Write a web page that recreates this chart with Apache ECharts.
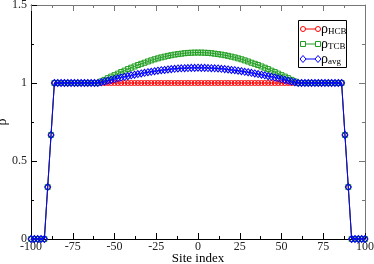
<!DOCTYPE html>
<html><head><meta charset="utf-8">
<script src="https://cdn.jsdelivr.net/npm/echarts@6/dist/echarts.min.js"></script>
<style>html,body{margin:0;padding:0;background:#fff}#c{width:374px;height:264px}</style>
</head><body><div id="c"></div>
<script>
var siteIndex = [-100,-98,-96,-94,-92,-90,-88,-86,-84,-82,-80,-78,-76,-74,-72,-70,-68,-66,-64,-62,
 -60,-58,-56,-54,-52,-50,-48,-46,-44,-42,-40,-38,-36,-34,-32,-30,-28,-26,-24,-22,-20,-18,-16,-14,-12,-10,-8,-6,-4,-2,
 0,2,4,6,8,10,12,14,16,18,20,22,24,26,28,30,32,34,36,38,40,42,44,46,48,50,52,54,56,58,60,
 62,64,66,68,70,72,74,76,78,80,82,84,86,88,90,92,94,96,98,100];
var rhoHCB = [0,0,0,0,0,0.333,0.667,1,1,1,1,1,1,1,1,1,1,1,1,1,
 1,1,1,1,1,1,1,1,1,1,1,1,1,1,1,1,1,1,1,1,1,1,1,1,1,1,1,1,1,1,
 1,1,1,1,1,1,1,1,1,1,1,1,1,1,1,1,1,1,1,1,1,1,1,1,1,1,1,1,1,1,1,
 1,1,1,1,1,1,1,1,1,1,1,1,1,0.667,0.333,0,0,0,0,0];
var rhoTCB = [0,0,0,0,0,0.333,0.667,1,1,1,1,1,1,1,1,1,1,1,1,1,
 1.000,1.010,1.020,1.031,1.041,1.050,1.060,1.070,1.079,1.089,1.098,1.106,1.115,1.123,1.130,1.138,1.145,1.152,1.158,1.164,1.169,1.174,1.178,1.182,1.185,1.188,1.191,1.193,1.194,1.195,
 1.195,1.195,1.194,1.193,1.191,1.188,1.185,1.182,1.178,1.174,1.169,1.164,1.158,1.152,1.145,1.138,1.130,1.123,1.115,1.106,1.098,1.089,1.079,1.070,1.060,1.050,1.041,1.031,1.020,1.010,1.000,
 1,1,1,1,1,1,1,1,1,1,1,1,1,0.667,0.333,0,0,0,0,0];
var rhoAvg = [0,0,0,0,0,0.333,0.667,1,1,1,1,1,1,1,1,1,1,1,1,1,
 1.000,1.005,1.010,1.015,1.020,1.025,1.030,1.035,1.040,1.044,1.049,1.053,1.057,1.061,1.065,1.069,1.072,1.076,1.079,1.082,1.084,1.087,1.089,1.091,1.093,1.094,1.095,1.096,1.097,1.097,
 1.098,1.097,1.097,1.096,1.095,1.094,1.093,1.091,1.089,1.087,1.084,1.082,1.079,1.076,1.072,1.069,1.065,1.061,1.057,1.053,1.049,1.044,1.040,1.035,1.030,1.025,1.020,1.015,1.010,1.005,1.000,
 1,1,1,1,1,1,1,1,1,1,1,1,1,0.667,0.333,0,0,0,0,0];
var seriesNames = ['HCB','TCB','avg'];
var seriesColors = ['#ff0000','#1f9e1f','#0000ff'];
var seriesSymbols = ['circle','rect','diamond'];

function pairs(ys){ return siteIndex.map(function(x,i){ return [x, ys[i]]; }); }

var FONT = 'Liberation Serif';
var chart = echarts.init(document.getElementById('c'), null, {renderer:'canvas'});

function mkSeries(name, ys, k){
  return {
    name: name, type: 'line', data: pairs(ys),
    xAxisIndex: 0, yAxisIndex: 0,
    symbol: seriesSymbols[k],
    symbolSize: k===2 ? [6,7] : 5,
    showAllSymbol: true,
    lineStyle: {color: seriesColors[k], width: 1},
    itemStyle: {color: 'rgba(255,255,255,0)', borderColor: seriesColors[k], borderWidth: 1},
    animation: false, silent: true, z: 2+k
  };
}

function axisBase(col){
  return {
    axisLine: {onZero: false, lineStyle: {color: col, width: 1}},
    axisTick: {inside: true, length: 6, lineStyle: {color: col}},
    minorTick: {show: true, splitNumber: 2, length: 3, lineStyle: {color: col}},
    splitLine: {show: false}
  };
}

function legendItem(k, y){
  var c = seriesColors[k];
  var g = [];
  g.push({type:'line', shape:{x1:303, y1:y, x2:318, y2:y}, style:{stroke:c, lineWidth:1}});
  [303,318].forEach(function(x){
    if (k===0) g.push({type:'circle', shape:{cx:x, cy:y, r:2.5}, style:{fill:'#fff', stroke:c, lineWidth:1}});
    else if (k===1) g.push({type:'rect', shape:{x:x-2.5, y:y-2.5, width:5, height:5}, style:{fill:'#fff', stroke:c, lineWidth:1}});
    else g.push({type:'polygon', shape:{points:[[x,y-3.5],[x+3,y],[x,y+3.5],[x-3,y]]}, style:{fill:'#fff', stroke:c, lineWidth:1}});
  });
  g.push({type:'text', x:321, y:y-7, style:{
    text: '{a|ρ}{b|' + seriesNames[k] + '}',
    rich: {
      a: {fontFamily: FONT, fontSize: 14, lineHeight: 14, fill: '#000'},
      b: {fontFamily: FONT, fontSize: 9, lineHeight: 9, verticalAlign: 'bottom', fill: '#000', padding:[5,0,0,0]}
    }
  }});
  return g;
}

var legendEls = [{type:'rect', shape:{x:298.5, y:20.5, width:48, height:47}, style:{fill:'#fff', stroke:'#000', lineWidth:1}}]
  .concat(legendItem(0,29)).concat(legendItem(1,44)).concat(legendItem(2,59));

chart.setOption({
  backgroundColor: '#fff',
  animation: false,
  grid: {left: 31, right: 9, top: 5, bottom: 25, containLabel: false, outerBoundsMode: 'none'},
  xAxis: [
    Object.assign(axisBase('#000'), {
      type: 'value', min: -100, max: 100, interval: 25, position: 'bottom',
      name: 'Site index', nameLocation: 'middle', nameGap: 13, nameMoveOverlap: false,
      nameTextStyle: {fontFamily: FONT, fontSize: 13, color: '#000'},
      axisLabel: {fontFamily: FONT, fontSize: 12, color: '#222', margin: 2}
    }),
    Object.assign(axisBase('#777'), {
      type: 'value', min: -100, max: 100, interval: 25, position: 'top',
      axisLabel: {show: false}
    })
  ],
  yAxis: [
    Object.assign(axisBase('#000'), {
      type: 'value', min: 0, max: 1.5, interval: 0.5, position: 'left',
      name: 'ρ', nameLocation: 'middle', nameGap: 22, nameRotate: 90, nameMoveOverlap: false,
      nameTextStyle: {fontFamily: FONT, fontSize: 14, color: '#000'},
      axisLabel: {fontFamily: FONT, fontSize: 12, color: '#222', margin: 4}
    }),
    Object.assign(axisBase('#777'), {
      type: 'value', min: 0, max: 1.5, interval: 0.5, position: 'right',
      axisLabel: {show: false}
    })
  ],
  series: [
    mkSeries('HCB', rhoHCB, 0),
    mkSeries('TCB', rhoTCB, 1),
    mkSeries('avg', rhoAvg, 2)
  ],
  graphic: legendEls
});
</script></body></html>
